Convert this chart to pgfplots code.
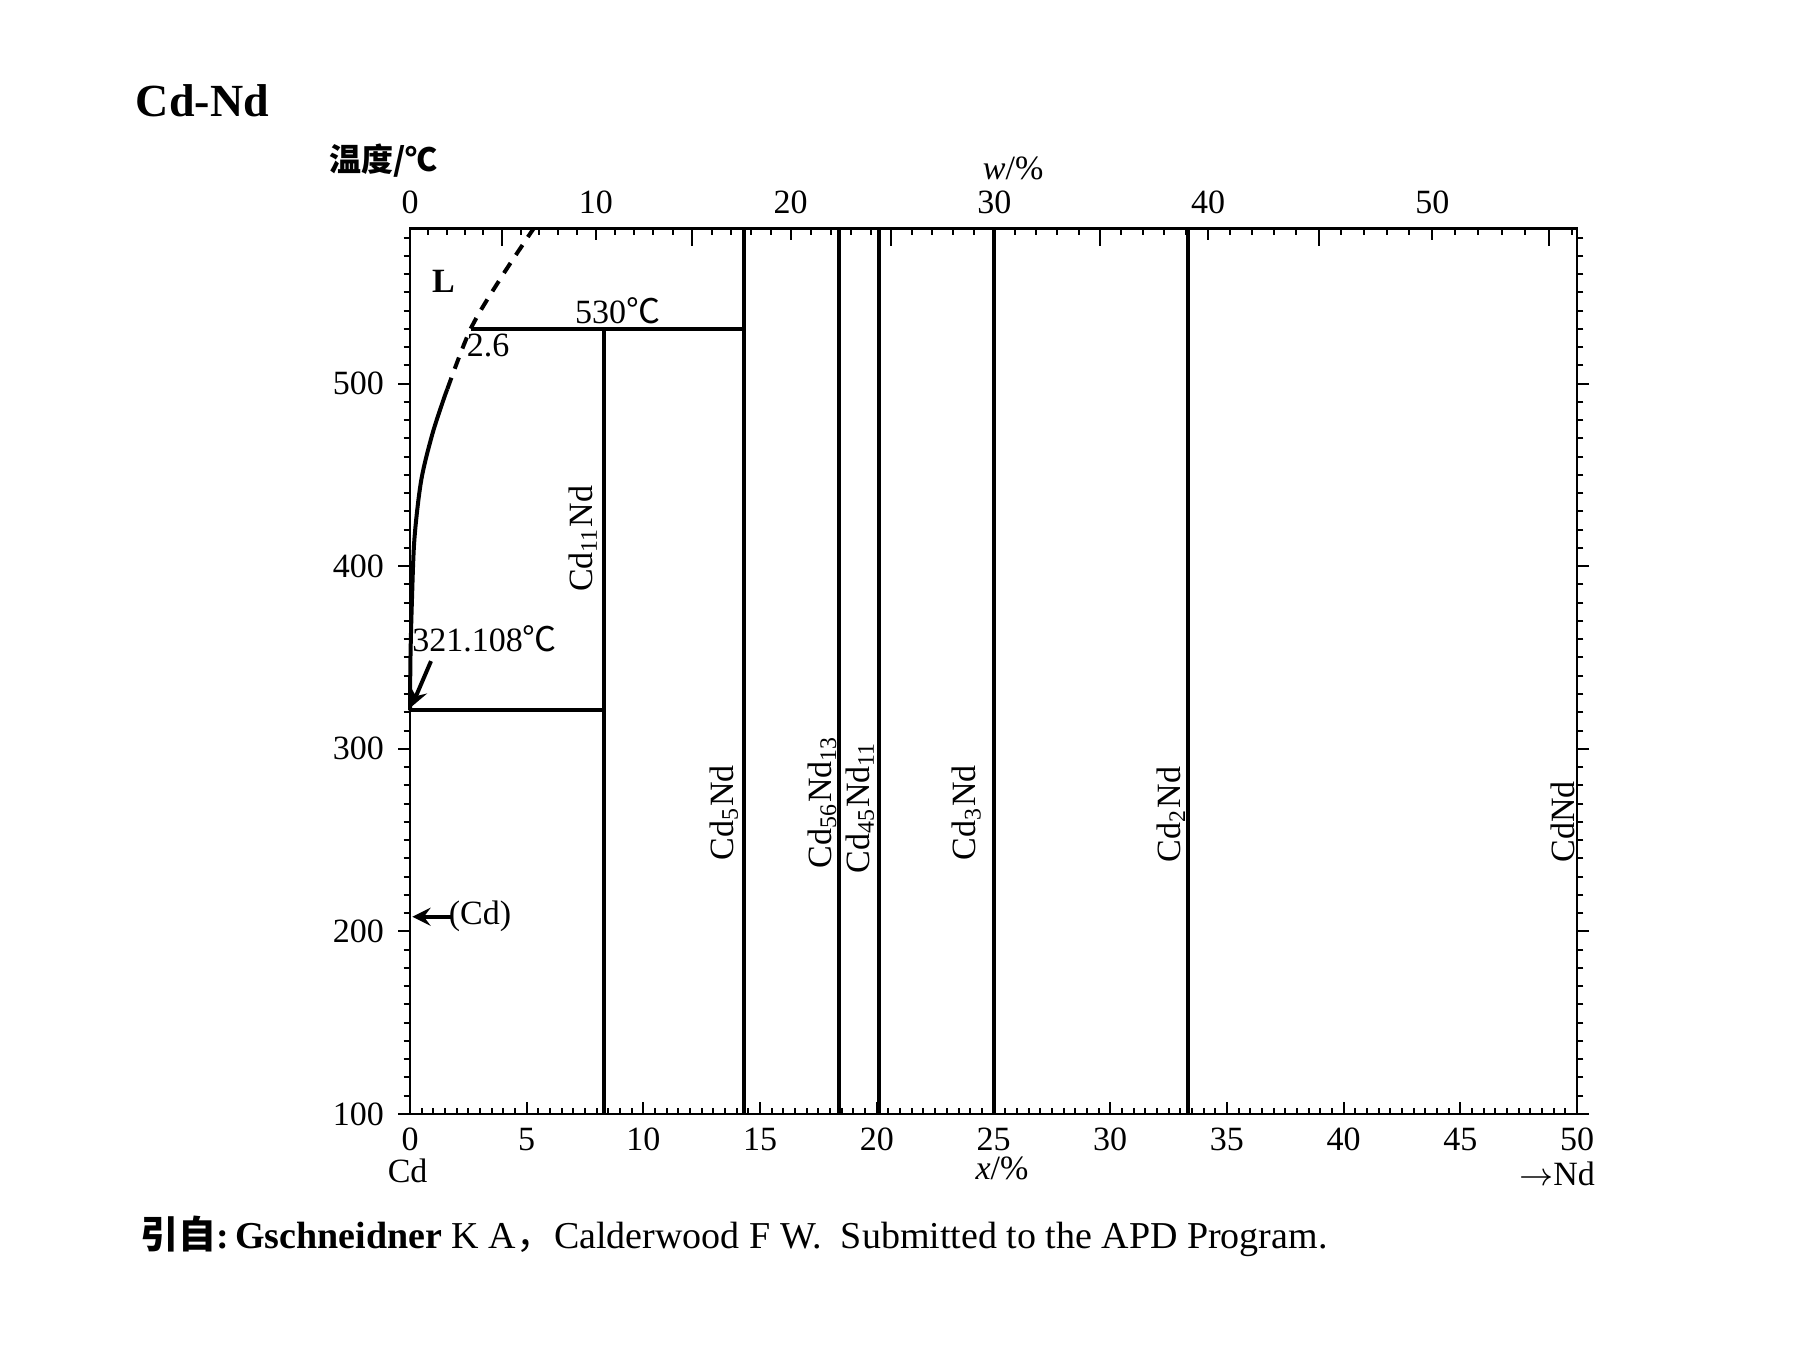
\documentclass[border=0pt]{standalone}
\usepackage{fontspec}
\setmainfont{Liberation Serif}
\newfontfamily\cjk{Noto Sans CJK SC}
\usepackage{pgfplots}
\pgfplotsset{compat=1.18}
\begin{document}
\begin{tikzpicture}[x=1pt,y=1pt]
\path[use as bounding box] (-102.5,-58) rectangle (346.25,278.5);
\pgfplotsset{
  base/.style={scale only axis, width=291.75pt, height=221.4pt,
    xmin=0, xmax=50, ymin=100, ymax=585, at={(0,0)}, anchor=south west,
    /pgf/number format/assume math mode=true,
    tick label style={font=\fontsize{8.5}{10}\selectfont},
    axis line style={line width=0.7pt},
    major tick length=3pt, minor tick length=1.6pt,
    every tick/.style={black, line width=0.5pt}, clip=false},
  ph/.style={draw=black, line width=1pt, mark=none, solid},
}
% main axis: data and bottom ticks
\begin{axis}[base, xtick={0,5,...,50}, minor xtick={0,0.5,...,50},
  xtick pos=bottom, tick align=inside, ytick=\empty]
\addplot[ph] coordinates {(8.33,100) (8.33,530)};
\addplot[ph] coordinates {(14.3,100) (14.3,585)};
\addplot[ph] coordinates {(18.4,100) (18.4,585)};
\addplot[ph] coordinates {(20.1,100) (20.1,585)};
\addplot[ph] coordinates {(25,100) (25,585)};
\addplot[ph] coordinates {(33.33,100) (33.33,585)};
\addplot[ph] coordinates {(2.6,530) (14.3,530)};
\addplot[ph] coordinates {(0,321) (8.33,321)};
\addplot[ph, smooth] coordinates {(0,321) (0.02,350) (0.08,380) (0.19,415) (0.48,447) (0.95,472) (1.43,491) (1.6,497)};
\addplot[ph, smooth, dash pattern=on 3pt off 2.4pt] coordinates {(1.6,497) (2.6,530) (3.9,558) (5.3,585)};
\draw[line width=1pt, -stealth] (axis cs:0.9,348) -- (axis cs:0.06,323);
\draw[line width=1pt, -stealth] (axis cs:1.85,208) -- (axis cs:0.1,208);
\begin{scope}[every node/.style={font=\fontsize{8.5}{10}\selectfont, inner sep=0pt}]
\node at (axis cs:1.43,556) {\bfseries L};
\node[anchor=south] at (axis cs:8.9,532) {530{\cjk ℃}};
\node at (axis cs:3.35,521) {2.6};
\node at (axis cs:3.2,360) {321.108{\cjk ℃}};
\node at (axis cs:3.0,208) {(Cd)};
\node[rotate=90] at (axis cs:7.4,415) {Cd\textsubscript{11}Nd};
\node[rotate=90] at (axis cs:13.45,265) {Cd\textsubscript{5}Nd};
\node[rotate=90] at (axis cs:17.65,271) {Cd\textsubscript{56}Nd\textsubscript{13}};
\node[rotate=90] at (axis cs:19.27,268) {Cd\textsubscript{45}Nd\textsubscript{11}};
\node[rotate=90] at (axis cs:23.85,265) {Cd\textsubscript{3}Nd};
\node[rotate=90] at (axis cs:32.6,264) {Cd\textsubscript{2}Nd};
\node[rotate=90] at (axis cs:49.4,260) {CdNd};
\end{scope}
\end{axis}
% y ticks
\begin{axis}[base, xtick=\empty, ytick={100,200,...,500}, minor ytick={100,110,...,580},
  ytick pos=both, yticklabel pos=left, tick align=outside]
\end{axis}
% top w% axis
\begin{axis}[base, axis x line*=top, axis y line=none, axis line style={-},
  xtick={0,7.969,16.306,25.037,34.191,43.799}, xticklabels={0,10,20,30,40,50},
  minor xtick={0.781,1.566,2.354,3.145,4.739,5.541,6.347,7.156,8.786,9.606,10.431,11.258,12.926,13.765,14.608,15.455,17.161,18.020,18.883,19.750,21.496,22.375,23.258,24.145,25.933,26.833,27.738,28.647,30.477,31.399,32.325,33.256,35.131,36.075,37.024,37.978,39.899,40.867,41.840,42.817,44.786,45.778,46.775,47.777,49.796},
  extra x ticks={3.940,12.090,20.621,29.560,38.936,48.784}, extra x tick labels={},
  extra x tick style={major tick length=4.5pt}, tick align=inside]
\end{axis}
% texts around
\node[font=\fontsize{11.5}{14}\selectfont\bfseries] at (-51.9,253.3) {Cd-Nd};
\node[font=\fontsize{8}{10}\selectfont\cjk\bfseries, inner sep=0pt] at (-6.6,238.4) {温度/℃};
\node[font=\fontsize{8.5}{10}\selectfont, inner sep=0pt] at (150.8,236.5) {\textit{w}/\%};
\node[font=\fontsize{8.5}{10}\selectfont, inner sep=0pt] at (-0.6,-14.3) {Cd};
\node[font=\fontsize{8.5}{10}\selectfont, inner sep=0pt] at (148,-13.5) {\textit{x}/\%};
\node[font=\fontsize{8.5}{10}\selectfont, inner sep=0pt] at (286.8,-15) {$\rightarrow$Nd};
\node[font=\fontsize{9.5}{12}\selectfont, inner sep=0pt, anchor=west] at (-67.6,-30.6) {{\cjk\bfseries 引自}\textbf{:\,Gschneidner} K A{\cjk ，}Calderwood F W.\ \ Submitted to the APD Program.};
\end{tikzpicture}
\end{document}
